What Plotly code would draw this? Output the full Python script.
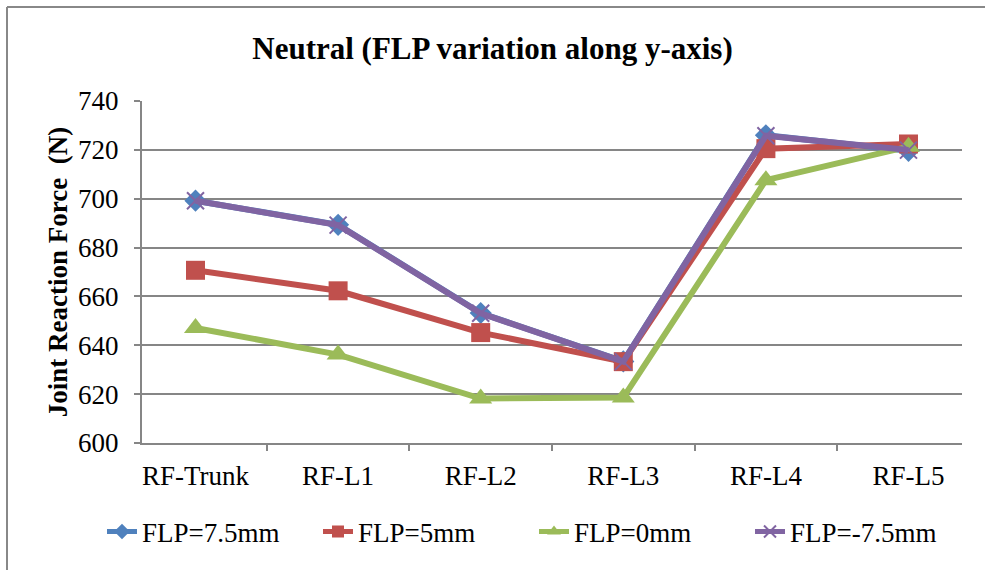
import plotly.graph_objects as go

categories = ["RF-Trunk", "RF-L1", "RF-L2", "RF-L3", "RF-L4", "RF-L5"]
flp_75 = [699.2, 689.3, 653.2, 633.4, 726.0, 719.6]
flp_5 = [670.7, 662.3, 645.2, 633.3, 720.5, 722.4]
flp_0 = [647.1, 636.2, 618.2, 618.6, 707.6, 721.3]
flp_m75 = [699.2, 689.2, 653.1, 633.3, 725.8, 719.9]
y_ticks = [600, 620, 640, 660, 680, 700, 720, 740]

FONT = "Liberation Serif, Times New Roman, serif"
fig = go.Figure()

series = [
    ("FLP=7.5mm", flp_75, "#4F81BD", dict(symbol="diamond", size=17)),
    ("FLP=5mm", flp_5, "#C0504D", dict(symbol="square", size=19)),
    ("FLP=0mm", flp_0, "#9BBB59", dict(symbol="triangle-up", size=20)),
    ("FLP=-7.5mm", flp_m75, "#8064A2", dict(symbol="x-thin", size=17,
                                             line=dict(color="#8064A2", width=2))),
]
for name, vals, col, mk in series:
    fig.add_trace(go.Scatter(
        x=categories, y=vals, name=name, mode="lines+markers",
        line=dict(color=col, width=6),
        marker=dict(color=col, **mk),
    ))

fig.update_layout(
    width=985, height=570,
    margin=dict(l=142, r=23, t=101, b=127),
    paper_bgcolor="white", plot_bgcolor="white",
    font=dict(family=FONT, size=27, color="black"),
    title=dict(text="<b>Neutral (FLP variation along y-axis)</b>",
               x=0.5, xanchor="center", y=1 - 48 / 570, yanchor="middle",
               font=dict(family=FONT, size=31, color="black")),
    showlegend=True,
    legend=dict(orientation="h", x=(102 - 142) / 820, xanchor="left", y=-0.26, yanchor="middle",
                font=dict(family=FONT, size=27, color="black"),
                entrywidth=171, entrywidthmode="pixels",
                bgcolor="rgba(0,0,0,0)", itemsizing="constant"),
)
fig.update_xaxes(
    type="category", showgrid=False, showline=True, linecolor="#868686", linewidth=2,
    ticks="outside", tickson="boundaries", ticklen=6, tickcolor="#868686", tickwidth=2,
    ticklabelstandoff=8,
    tickfont=dict(family=FONT, size=27, color="black"), zeroline=False,
)
fig.update_yaxes(
    range=[600, 740], tickvals=y_ticks, showgrid=True, gridcolor="#868686", gridwidth=2,
    showline=True, linecolor="#868686", linewidth=2,
    ticks="outside", ticklen=6, tickcolor="#868686", tickwidth=2,
    ticklabelstandoff=10,
    tickfont=dict(family=FONT, size=27, color="black"), zeroline=False,
    title=dict(text="<b>Joint Reaction Force  (N)</b>", standoff=3,
               font=dict(family=FONT, size=27, color="black")),
)
# outer chart border (left and top edges visible)
fig.add_shape(type="line", xref="paper", yref="paper",
              x0=(7 - 142) / 820, x1=(7 - 142) / 820, y0=(443 - 7) / 342, y1=-0.5,
              line=dict(color="#888888", width=2))
fig.add_shape(type="line", xref="paper", yref="paper",
              x0=(7 - 142) / 820, x1=1.1, y0=(443 - 7) / 342, y1=(443 - 7) / 342,
              line=dict(color="#888888", width=2))

fig.write_html("out.html")
